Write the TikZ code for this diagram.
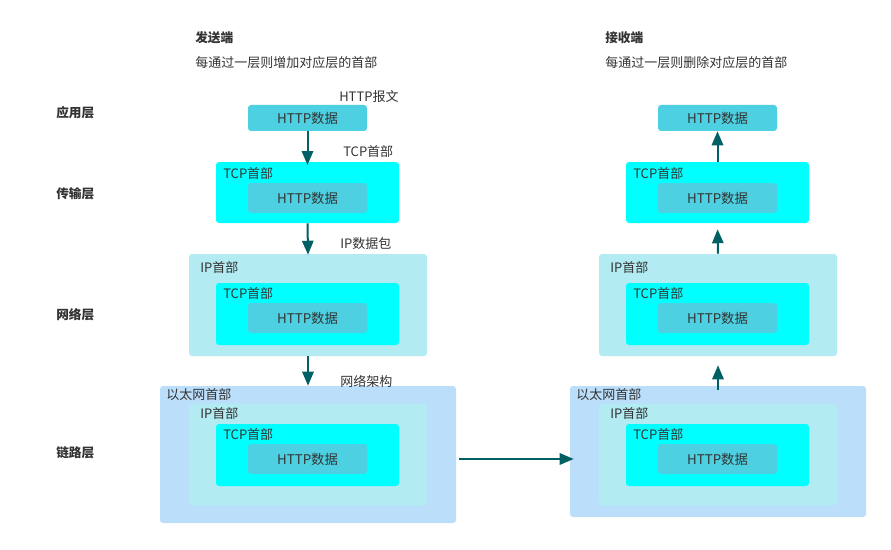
\documentclass[tikz,border=0pt]{standalone}
\usepackage{fontspec}
\setmainfont{Noto Sans CJK SC}
\usetikzlibrary{arrows.meta}
\definecolor{httpc}{HTML}{4DD0E1}
\definecolor{tcpc}{HTML}{00FFFF}
\definecolor{ipc}{HTML}{B2EBF2}
\definecolor{ethc}{HTML}{BBDEFB}
\definecolor{arrc}{HTML}{006064}
\definecolor{txtc}{HTML}{333333}
\tikzset{
  box/.style={draw=none, rounded corners=2.25pt, inner sep=0pt},
  httpbox/.style={box, fill=httpc, minimum width=89.25pt, text=txtc, font=\fontsize{10pt}{12pt}\selectfont},
  tcpbox/.style={box, fill=tcpc, minimum width=137.25pt},
  ipbox/.style={box, fill=ipc, minimum width=178.5pt, minimum height=76.5pt},
  ethbox/.style={box, fill=ethc, minimum width=222pt},
  lbl/.style={anchor=west, inner sep=0pt, text=txtc, font=\fontsize{9.75pt}{12pt}\selectfont},
  head/.style={lbl, font=\fontsize{9.5pt}{12pt}\selectfont\bfseries},
  arr/.style={draw=arrc, line width=1.5pt, -{Triangle[length=10.5pt, width=8.5pt]}},
}
\begin{document}
\begin{tikzpicture}[x=0.75pt, y=-0.75pt]
\useasboundingbox (0,0) rectangle (891,549);
% layer labels
\node[head] (l1) at (56,113) {应用层};
\node[head] (l2) at (56,194) {传输层};
\node[head] (l3) at (56,315) {网络层};
\node[head] (l4) at (56,453) {链路层};
% titles
\node[head] (ts) at (195,38) {发送端};
\node[lbl] (ds) at (195,63) {每通过一层则增加对应层的首部};
\node[head] (tr) at (605,38) {接收端};
\node[lbl] (dr) at (605,63) {每通过一层则删除对应层的首部};

% ===== sender =====
\node[httpbox, minimum height=19.5pt] (sa) at (307.5,118) {HTTP数据};
\node[lbl] (sal) at (339,97) {HTTP报文};

\node[tcpbox, minimum height=45.75pt] (st) at (307.5,192.5) {};
\node[httpbox, minimum height=22.5pt] (sth) at (307.5,198) {HTTP数据};
\node[lbl] (stl) at (223,174) {TCP首部};
\node[lbl] (stlo) at (343,152) {TCP首部};

\node[ipbox] (si) at (308,305) {};
\node[tcpbox, minimum height=46.5pt] (sit) at (307.5,314) {};
\node[httpbox, minimum height=22.5pt] (sith) at (307.5,318) {HTTP数据};
\node[lbl] (sil) at (200,268) {IP首部};
\node[lbl] (sitl) at (223,294) {TCP首部};
\node[lbl] (silo) at (340,244) {IP数据包};

\node[ethbox, minimum height=102.75pt] (se) at (308,454.5) {};
\node[ipbox] (sei) at (308,454.5) {};
\node[tcpbox, minimum height=46.5pt] (seit) at (307.5,455) {};
\node[httpbox, minimum height=22.5pt] (seith) at (307.5,459) {HTTP数据};
\node[lbl] (sel) at (166,395) {以太网首部};
\node[lbl] (seil) at (200,414) {IP首部};
\node[lbl] (seitl) at (223,435) {TCP首部};
\node[lbl] (selo) at (340,381) {网络架构};

% ===== receiver =====
\node[httpbox, minimum height=19.5pt] (ra) at (717.5,118) {HTTP数据};

\node[tcpbox, minimum height=45.75pt] (rt) at (717.5,192.5) {};
\node[httpbox, minimum height=22.5pt] (rth) at (717.5,198) {HTTP数据};
\node[lbl] (rtl) at (633,174) {TCP首部};

\node[ipbox] (ri) at (718,305) {};
\node[tcpbox, minimum height=46.5pt] (rit) at (717.5,314) {};
\node[httpbox, minimum height=22.5pt] (rith) at (717.5,318) {HTTP数据};
\node[lbl] (ril) at (610,268) {IP首部};
\node[lbl] (ritl) at (633,294) {TCP首部};

\node[ethbox, minimum height=98.25pt] (re) at (718,451.5) {};
\node[ipbox] (rei) at (718,454.5) {};
\node[tcpbox, minimum height=46.5pt] (reit) at (717.5,455) {};
\node[httpbox, minimum height=22.5pt] (reith) at (717.5,459) {HTTP数据};
\node[lbl] (rel) at (576,395) {以太网首部};
\node[lbl] (reil) at (610,414) {IP首部};
\node[lbl] (reitl) at (633,435) {TCP首部};

% ===== arrows =====
\draw[arr, shorten >=-2.5pt] (sa.south) -- (st.north);
\draw[arr, shorten >=-0.75pt] (st.south) -- (si.north);
\draw[arr] (si.south) -- (se.north);
\draw[arr, shorten <=2.25pt, shorten >=-3pt] (se.east |- seith.center) -- (re.west |- reith.center);
\draw[arr, shorten <=-3pt, shorten >=6.75pt] (re.north) -- (ri.south);
\draw[arr, shorten >=4.5pt] (ri.north) -- (rt.south);
\draw[arr] (rt.north) -- (ra.south);
\end{tikzpicture}
\end{document}
